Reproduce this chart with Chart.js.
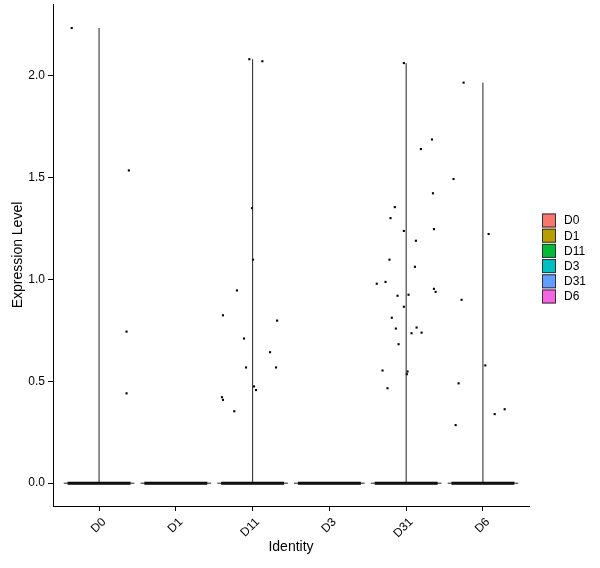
<!DOCTYPE html>
<html>
<head>
<meta charset="utf-8">
<script src="https://cdn.jsdelivr.net/npm/chart.js@4.4.1/dist/chart.umd.min.js"></script>
<style>
  html, body { margin: 0; padding: 0; background: #fff; }
  #wrap { width: 600px; height: 568px; }
</style>
</head>
<body>
<div id="wrap"><canvas id="chart" width="600" height="568"></canvas></div>
<script>
const groups = ['D0', 'D1', 'D11', 'D3', 'D31', 'D6'];
const groupColors = ['#F8766D', '#B79F00', '#00BA38', '#00BFC4', '#619CFF', '#F564E3'];
const violinMax = [2.234, 0, 2.081, 0, 2.062, 1.966];
const yTicks = [0, 0.5, 1.0, 1.5, 2.0];

// expressed cells per identity (value, horizontal jitter)
const d0Values = [2.234, 1.535, 0.744, 0.441];
const d0Jitter = [-0.356, 0.388, 0.358, 0.358];
const d11Values = [2.081, 2.071, 1.350, 1.097, 0.946, 0.824, 0.798, 0.710, 0.643, 0.568, 0.568, 0.475, 0.457, 0.422, 0.409, 0.353];
const d11Jitter = [-0.043, 0.127, -0.008, 0.005, -0.204, -0.386, 0.319, -0.112, 0.227, -0.086, 0.305, 0.018, 0.044, -0.399, -0.386, -0.239];
const d31Values = [2.062, 1.687, 1.640, 1.423, 1.355, 1.301, 1.238, 1.247, 1.190, 1.097, 1.062, 0.979, 0.988, 0.920, 0.925, 0.954, 0.939, 0.866, 0.812, 0.759, 0.764, 0.736, 0.739, 0.682, 0.553, 0.548, 0.535, 0.466];
const d31Jitter = [-0.030, 0.336, 0.192, 0.349, -0.148, -0.204, -0.030, 0.362, 0.127, -0.217, 0.114, -0.383, -0.269, -0.112, 0.031, 0.362, 0.384, -0.030, -0.187, -0.134, 0.136, 0.070, 0.201, -0.099, -0.308, 0.018, 0.009, -0.243];
const d6Values = [1.966, 1.493, 1.223, 0.900, 0.578, 0.490, 0.363, 0.339, 0.285];
const d6Jitter = [-0.252, -0.383, 0.074, -0.278, 0.031, -0.317, 0.283, 0.153, -0.356];

const pointSets = [
  { group: 0, values: d0Values, jitter: d0Jitter },
  { group: 2, values: d11Values, jitter: d11Jitter },
  { group: 4, values: d31Values, jitter: d31Jitter },
  { group: 5, values: d6Values, jitter: d6Jitter },
];

const FONT = "'Liberation Sans', Arial, sans-serif";
const datasets = [];

groups.forEach((g, i) => {
  const c = i + 1;
  // flat violin outline
  datasets.push({
    type: 'line', data: [{x: c - 0.46, y: 0}, {x: c + 0.46, y: 0}],
    borderColor: '#222', borderWidth: 1, pointRadius: 0
  });
  // cells at zero, jittered into a thick band
  datasets.push({
    type: 'line', data: [{x: c - 0.41, y: 0}, {x: c + 0.41, y: 0}],
    borderColor: '#000', borderWidth: 3, pointRadius: 0
  });
  if (violinMax[i] > 0) {
    datasets.push({
      type: 'line', data: [{x: c, y: 0}, {x: c, y: violinMax[i]}],
      borderColor: '#222', borderWidth: 1, pointRadius: 0
    });
  }
});

pointSets.forEach(s => {
  datasets.push({
    type: 'scatter',
    data: s.values.map((v, k) => ({x: s.group + 1 + s.jitter[k], y: v})),
    pointStyle: 'rect', pointRadius: 1.5, borderWidth: 0,
    backgroundColor: '#000'
  });
});

const legendPlugin = {
  id: 'identLegend',
  afterDraw(chart) {
    const ctx = chart.ctx;
    const x0 = 542, y0 = 213.5, size = 14, step = 15.2;
    ctx.save();
    ctx.font = '12px ' + FONT;
    ctx.textBaseline = 'middle';
    ctx.textAlign = 'left';
    groups.forEach((g, i) => {
      const y = y0 + i * step;
      ctx.fillStyle = groupColors[i];
      ctx.fillRect(x0, y, size, size);
      ctx.strokeStyle = '#333';
      ctx.lineWidth = 1;
      ctx.strokeRect(x0 + 0.5, y + 0.5, size - 1, size - 1);
      ctx.fillStyle = '#000';
      ctx.fillText(g, x0 + 22, y + size / 2 + 0.5);
    });
    ctx.restore();
  }
};

new Chart(document.getElementById('chart'), {
  type: 'scatter',
  data: { datasets: datasets },
  plugins: [legendPlugin],
  options: {
    responsive: false,
    animation: false,
    devicePixelRatio: 1,
    layout: { padding: { top: 3, right: 71, left: 0, bottom: 0 } },
    plugins: { legend: { display: false }, tooltip: { enabled: false } },
    scales: {
      x: {
        type: 'linear', min: 0.4, max: 6.6,
        afterBuildTicks: s => { s.ticks = groups.map((g, i) => ({value: i + 1})); },
        afterFit: s => { s.height = 62; s.paddingLeft = 0; s.paddingRight = 0; },
        ticks: {
          callback: v => groups[v - 1],
          minRotation: 45, maxRotation: 45, padding: 4, labelOffset: 5,
          color: '#000', font: { family: FONT, size: 12 }
        },
        grid: { drawOnChartArea: false, drawTicks: true, tickLength: 5, color: '#000' },
        border: { display: true, color: '#000', width: 1 },
        title: { display: true, text: 'Identity', color: '#000', font: { family: FONT, size: 14 }, padding: { top: 0, bottom: 12 } }
      },
      y: {
        min: -0.112, max: 2.352,
        afterBuildTicks: s => { s.ticks = yTicks.map(v => ({value: v})); },
        afterFit: s => { s.width = 53; s.paddingTop = 0; s.paddingBottom = 0; },
        ticks: {
          callback: v => v.toFixed(1), padding: 3,
          color: '#000', font: { family: FONT, size: 12 }
        },
        grid: { drawOnChartArea: false, drawTicks: true, tickLength: 5, color: '#000' },
        border: { display: true, color: '#000', width: 1 },
        title: { display: true, text: 'Expression Level', color: '#000', font: { family: FONT, size: 14 }, padding: { top: 10, bottom: 0 } }
      }
    }
  }
});
</script>
</body>
</html>
